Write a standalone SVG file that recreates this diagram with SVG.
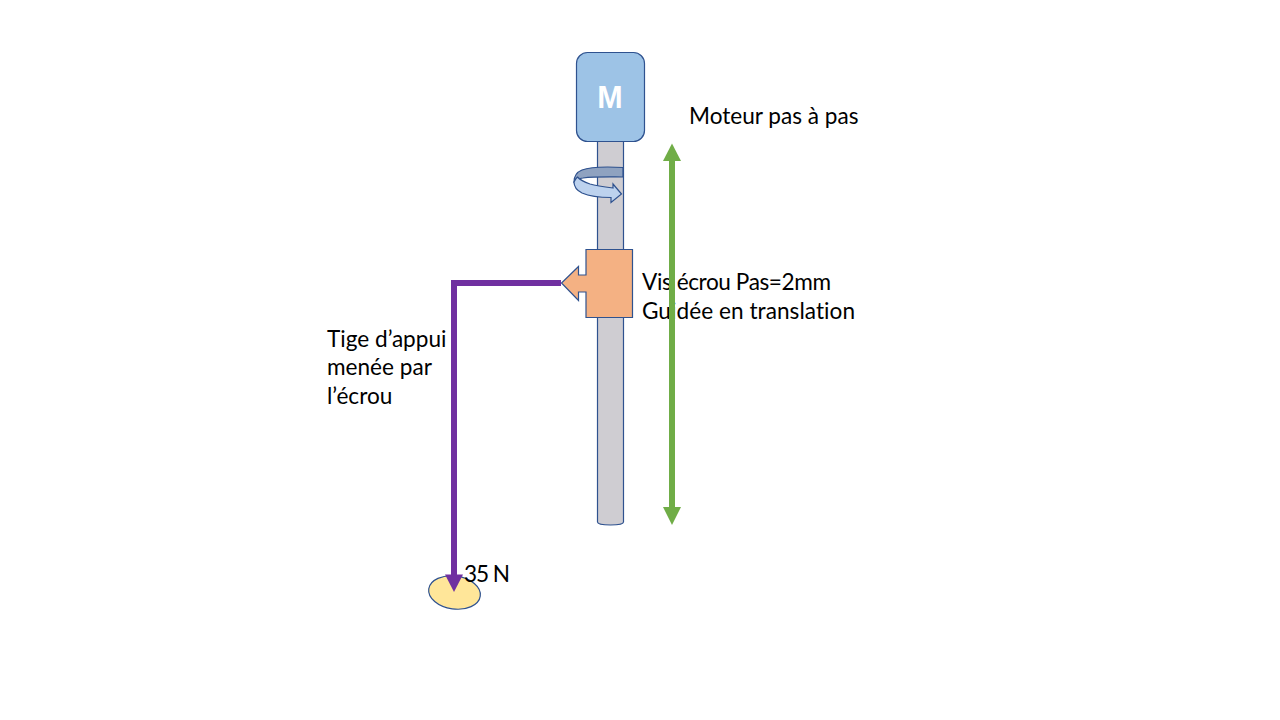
<svg xmlns="http://www.w3.org/2000/svg" width="1280" height="720" viewBox="0 0 1280 720">
  <style>
    .edge { stroke: #2f528f; stroke-width: 1.2; }
    .lbl { font-family: "Lato", "Open Sans", sans-serif; font-size: 22.6px; fill: #000; font-variant-ligatures: none; }
    .thick { fill: none; stroke: #7030a0; stroke-width: 6; }
  </style>
  <rect width="1280" height="720" fill="#fff"/>
  <g id="labels-under">
    <text class="lbl" x="642" y="290" textLength="189" lengthAdjust="spacing">Vis écrou Pas=2mm</text>
    <text class="lbl" x="642" y="319" textLength="213" lengthAdjust="spacing">Guidée en translation</text>
  </g>
  <g id="rod">
    <path class="edge" fill="#cfcdd2" d="M597.5 141 V522 Q597.5 525 610.5 525 Q623.5 525 623.5 522 V141 Z"/>
  </g>
  <g id="motor">
    <rect class="edge" x="576.5" y="52.5" width="68" height="89" rx="11" ry="11" fill="#9dc3e6"/>
    <text x="610" y="108" text-anchor="middle" style="font-family:'Liberation Sans',Arial,sans-serif;font-size:30.5px;font-weight:700;fill:#fff">M</text>
  </g>
  <g id="rotation">
    <path class="edge" fill="#8fa2c0" d="M623 167.5 C605 166.5 590 167 582 170 C577 172 574 176 574 182 C576 180 578 178.5 583 178 C595 176.5 610 177 623 177 Z"/>
    <path class="edge" fill="#bdd2ee" d="M574 182 C575 180 576 178 577.5 177 C580 180 584 182 590 184 C597 186 605 187 613 188 L613 184 L621.5 194 L611 202.5 L611 197.5 C600 197.5 590 196.5 582 193 C577 190.5 574 186 574 182 Z"/>
  </g>
  <g id="nut">
    <path class="edge" fill="#f4b183" d="M586 249.5 H632.5 V317.5 H586 V292 H578.5 V300.5 L561.5 283 L578.5 266.5 V275 H586 Z"/>
  </g>
  <g id="contact">
    <ellipse class="edge" cx="454.5" cy="592.5" rx="26" ry="16.5" transform="rotate(8 454.5 592.5)" fill="#ffe699"/>
  </g>
  <g id="connectors">
    <path class="thick" d="M561 283 H454 V576"/>
    <polygon fill="#7030a0" points="445,574.5 463,574.5 454,592"/>
    <path d="M672 160 V508" fill="none" stroke="#70ad47" stroke-width="6"/>
    <polygon fill="#70ad47" points="672,143.5 663,161 681,161"/>
    <polygon fill="#70ad47" points="672,525 663,507 681,507"/>
  </g>
  <g id="labels">
    <text class="lbl" x="689" y="124">Moteur pas à pas</text>
    <text class="lbl" x="327" y="347">Tige d’appui</text>
    <text class="lbl" x="327" y="375">menée par</text>
    <text class="lbl" x="327" y="404">l’écrou</text>
    <text class="lbl" x="464" y="582" textLength="46" lengthAdjust="spacing">35 N</text>
  </g>
</svg>
